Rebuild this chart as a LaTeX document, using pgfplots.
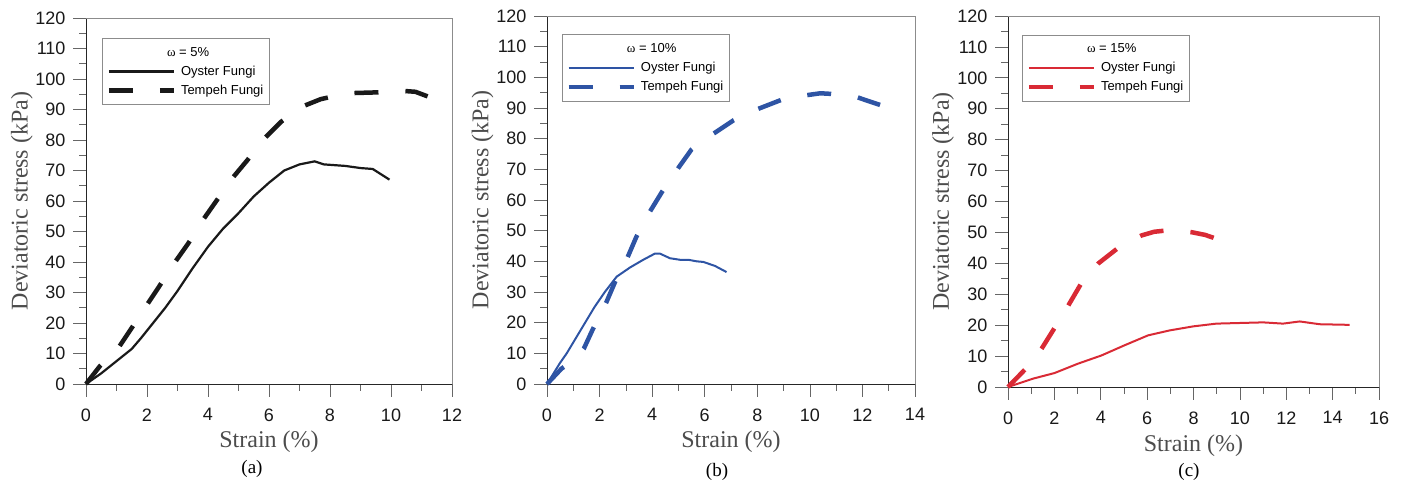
\documentclass[border=0pt]{standalone}
\usepackage{pgfplots}
\pgfplotsset{compat=1.18}
\usepackage{fontspec}
\setmainfont{Liberation Sans}
\newfontfamily\serif{Liberation Serif}

\definecolor{oysterA}{RGB}{25,25,25}
\definecolor{curveB}{RGB}{46,84,164}
\definecolor{curveC}{RGB}{217,42,53}

\pgfplotsset{
  fungi/.style={
    scale only axis, anchor=south west,
    axis lines=left, axis line style={-, draw=black!85, line width=0.8pt},
    xmin=0, ymin=0, ymax=120,
    ytick={0,10,...,120}, minor y tick num=1, minor x tick num=1,
    tick align=outside, major tick length=13pt, minor tick length=7pt,
    tick style={draw=black!60, line width=0.7pt},
    every tick label/.style={font=\fontsize{18}{18}\selectfont, text=black!90},
    xticklabel style={yshift=-8pt},
    yticklabel style={xshift=-4pt},
    /pgf/number format/assume math mode=true,
    xlabel={\serif Strain (\%)}, ylabel={\serif Deviatoric stress (kPa)},
    xlabel style={font=\fontsize{24}{24}\selectfont, text=black!70,
      at={(axis description cs:0.5,-0.158)}, anchor=center},
    ylabel style={font=\fontsize{24}{24}\selectfont, text=black!70,
      at={(axis description cs:-0.175,0.5)}, anchor=center},
    clip=false,
    legend cell align=left,
    legend image code/.code={\draw[##1] (0pt,0pt) -- (65pt,0pt);},
    legend style={draw=black!45, line width=0.8pt, anchor=north west,
      font=\fontsize{13}{13}\selectfont, inner xsep=4pt, inner ysep=7pt,
      row sep=4pt, column sep=3pt},
    after end axis/.code={
      \draw[black!45, line width=0.8pt] (rel axis cs:0,1) -- (rel axis cs:1,1) -- (rel axis cs:1,0);
    },
  },
  tempeh/.style={line width=4.5pt, dash pattern=on 24pt off 27pt},
}

\begin{document}
\begin{tikzpicture}[x=1pt,y=1pt]
\useasboundingbox (0,0) rectangle (1408,486);

% (a) omega = 5%
\begin{axis}[fungi, at={(86pt,102pt)}, width=366pt, height=366pt,
  xmax=12, xtick={0,2,...,12},
  legend style={at={(axis description cs:0.044,0.945)}}]
\addlegendimage{empty legend}
\addlegendentry{\hspace*{-14pt}{\serif ω} = 5\%}
\addplot[oysterA, line width=2.2pt] coordinates {
  (0,0) (0.5,3.5) (1,7.5) (1.5,11.5) (1.8,15) (2.2,20) (2.6,25) (3,30.5)
  (3.5,38) (4,45) (4.5,51) (5,56) (5.5,61.5) (6,66) (6.5,70) (7,72)
  (7.5,73) (7.8,72) (8.5,71.5) (9,70.8) (9.4,70.5) (9.95,67)
};
\addlegendentry{Oyster Fungi}
\addplot[oysterA, tempeh] coordinates {
  (0,0) (0.45,5.8) (1.06,11.8) (1.5,18.4) (2,26) (2.4,32) (2.9,39.7)
  (3.36,46.2) (3.85,54) (4.3,60.4) (4.8,67.5) (5.3,73.5) (5.8,80) (6.4,86)
  (7.1,91) (7.7,93.4) (8.2,94.5) (8.8,95.4) (9.5,95.6) (10,95.8) (10.4,96.1)
  (10.8,95.8) (11.2,94.3)
};
\addlegendentry{Tempeh Fungi}
\end{axis}

% (b) omega = 10%
\begin{axis}[fungi, at={(547pt,102pt)}, width=368pt, height=368pt,
  xmax=14, xtick={0,2,...,14},
  legend style={at={(axis description cs:0.041,0.95)}}]
\addlegendimage{empty legend}
\addlegendentry{\hspace*{-14pt}{\serif ω} = 10\%}
\addplot[curveB, line width=2pt] coordinates {
  (0,0) (0.49,6.8) (0.75,10) (1.1,15) (1.45,20) (1.8,25) (2.2,30) (2.65,35)
  (3.16,38) (3.66,40.5) (4.1,42.5) (4.3,42.5) (4.68,41) (5.06,40.5)
  (5.38,40.5) (5.69,40) (5.95,39.8) (6.39,38.5) (6.83,36.5)
};
\addlegendentry{Oyster Fungi}
\addplot[curveB, tempeh] coordinates {
  (0,0) (0.55,5) (1.05,8) (1.4,11.5) (1.75,18) (2.25,26.5) (2.6,33.5)
  (3.05,41) (3.4,48) (3.9,56) (4.4,63) (5,70.5) (5.5,76.5) (6,80) (6.4,82)
  (7.1,86) (8,89.6) (8.9,92.6) (9.9,94.2) (10.4,94.8) (10.8,94.6)
  (11.8,93.5) (12.67,91)
};
\addlegendentry{Tempeh Fungi}
\end{axis}

% (c) omega = 15%
\begin{axis}[fungi, at={(1008pt,99pt)}, width=371pt, height=371pt,
  xmax=16, xtick={0,2,...,16},
  legend style={at={(axis description cs:0.038,0.95)}}]
\addlegendimage{empty legend}
\addlegendentry{\hspace*{-14pt}{\serif ω} = 15\%}
\addplot[curveC, line width=2pt] coordinates {
  (0,0) (1.08,2.7) (2,4.5) (3,7.5) (4.03,10.2) (5.03,13.5) (6.04,16.7)
  (6.97,18.3) (7.98,19.6) (8.99,20.5) (9.99,20.7) (11,20.9) (11.86,20.5)
  (12.58,21.2) (13.44,20.3) (14.73,20.1)
};
\addlegendentry{Oyster Fungi}
\addplot[curveC, tempeh] coordinates {
  (0,0) (0.7,5.4) (1.1,8.5) (1.45,12.4) (2,19) (2.3,22.5) (2.65,27)
  (3.15,33.4) (3.5,36.5) (3.9,40) (4.7,44.7) (5.2,47) (5.75,49) (6.3,50.2)
  (6.8,50.6) (7.4,50.5) (7.9,50.1) (8.5,49.2) (9,47.9)
};
\addlegendentry{Tempeh Fungi}
\end{axis}

\node[font=\serif\fontsize{19}{19}\selectfont] at (252,17) {(a)};
\node[font=\serif\fontsize{19}{19}\selectfont] at (717,14) {(b)};
\node[font=\serif\fontsize{19}{19}\selectfont] at (1189,14) {(c)};
\end{tikzpicture}
\end{document}
